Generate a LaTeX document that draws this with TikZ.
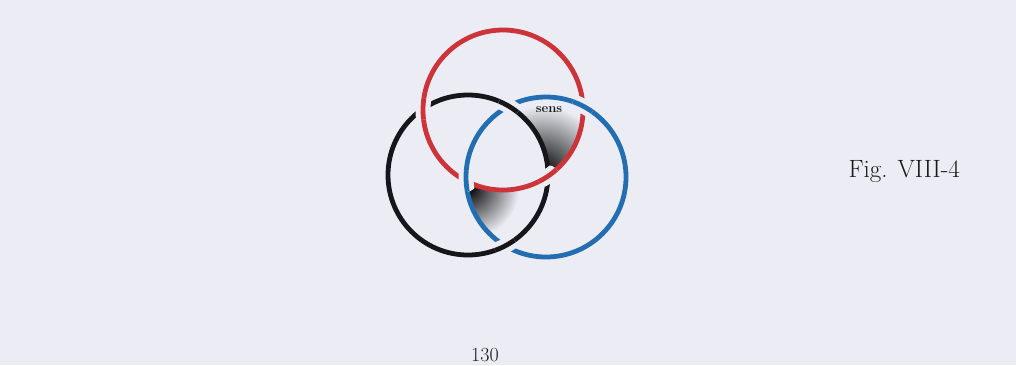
\documentclass[tikz,border=0pt]{standalone}
\usetikzlibrary{intersections}
\definecolor{bg}{RGB}{236,237,244}
\definecolor{ringred}{RGB}{204,52,58}
\definecolor{ringblue}{RGB}{34,110,176}
\definecolor{ringblack}{RGB}{22,22,26}
\newcommand\overpass[3]{%
  \begin{scope}
    \clip (#1) circle[radius=11pt];
    \draw[halo] (#2) circle[radius=80pt];
    \draw[ring,draw=#3] (#2) circle[radius=80pt];
  \end{scope}}
\begin{document}
\begin{tikzpicture}[x=1pt,y=-1pt,
  ring/.style={line width=4.8pt},
  halo/.style={line width=15pt,draw=bg},
  label/.style={text=black!90}]
\useasboundingbox (0,0) rectangle (1016,365);
\fill[bg] (0,0) rectangle (1016,365);
\coordinate (R) at (503,110);
\coordinate (K) at (468,175);
\coordinate (B) at (546,177);
\path[name path=red] (R) circle[radius=80pt];
\path[name path=black] (K) circle[radius=80pt];
\path[name path=blue] (B) circle[radius=80pt];
\path[name intersections={of=red and black,name=rk}];
\path[name intersections={of=black and blue,name=kb}];
\path[name intersections={of=blue and red,name=br}];
% shaded regions
\begin{scope}
  \clip (R) circle[radius=80pt];
  \clip (B) circle[radius=80pt];
  \begin{scope}[even odd rule]
    \clip (0,0) rectangle (1016,365) (K) circle[radius=80pt];
    \shade[inner color=black,outer color=bg] (542,172) circle[radius=66pt];
  \end{scope}
\end{scope}
\begin{scope}
  \clip (K) circle[radius=80pt];
  \clip (B) circle[radius=80pt];
  \begin{scope}[even odd rule]
    \clip (0,0) rectangle (1016,365) (R) circle[radius=80pt];
    \shade[inner color=black,outer color=bg] (469,188) circle[radius=50pt];
  \end{scope}
\end{scope}
% rings
\draw[ring,draw=ringred] (R) circle[radius=80pt];
\draw[ring,draw=ringblack] (K) circle[radius=80pt];
\draw[ring,draw=ringblue] (B) circle[radius=80pt];
% crossings: red over black, black over blue, blue over red
\overpass{rk-1}{R}{ringred}
\overpass{rk-2}{R}{ringred}
\overpass{kb-1}{K}{ringblack}
\overpass{kb-2}{K}{ringblack}
\overpass{br-1}{B}{ringblue}
\overpass{br-2}{B}{ringblue}
% texts
\node[label,font=\fontsize{13}{15}\selectfont\bfseries] (sens) at (549,110) {sens};
\node[label,font=\fontsize{25}{29}\selectfont,anchor=west] (fig) at (845,172) {Fig. VIII-4};
\node[label,font=\fontsize{20}{24}\selectfont,anchor=base,inner sep=0pt] (page) at (485,361) {130};
\end{tikzpicture}
\end{document}
